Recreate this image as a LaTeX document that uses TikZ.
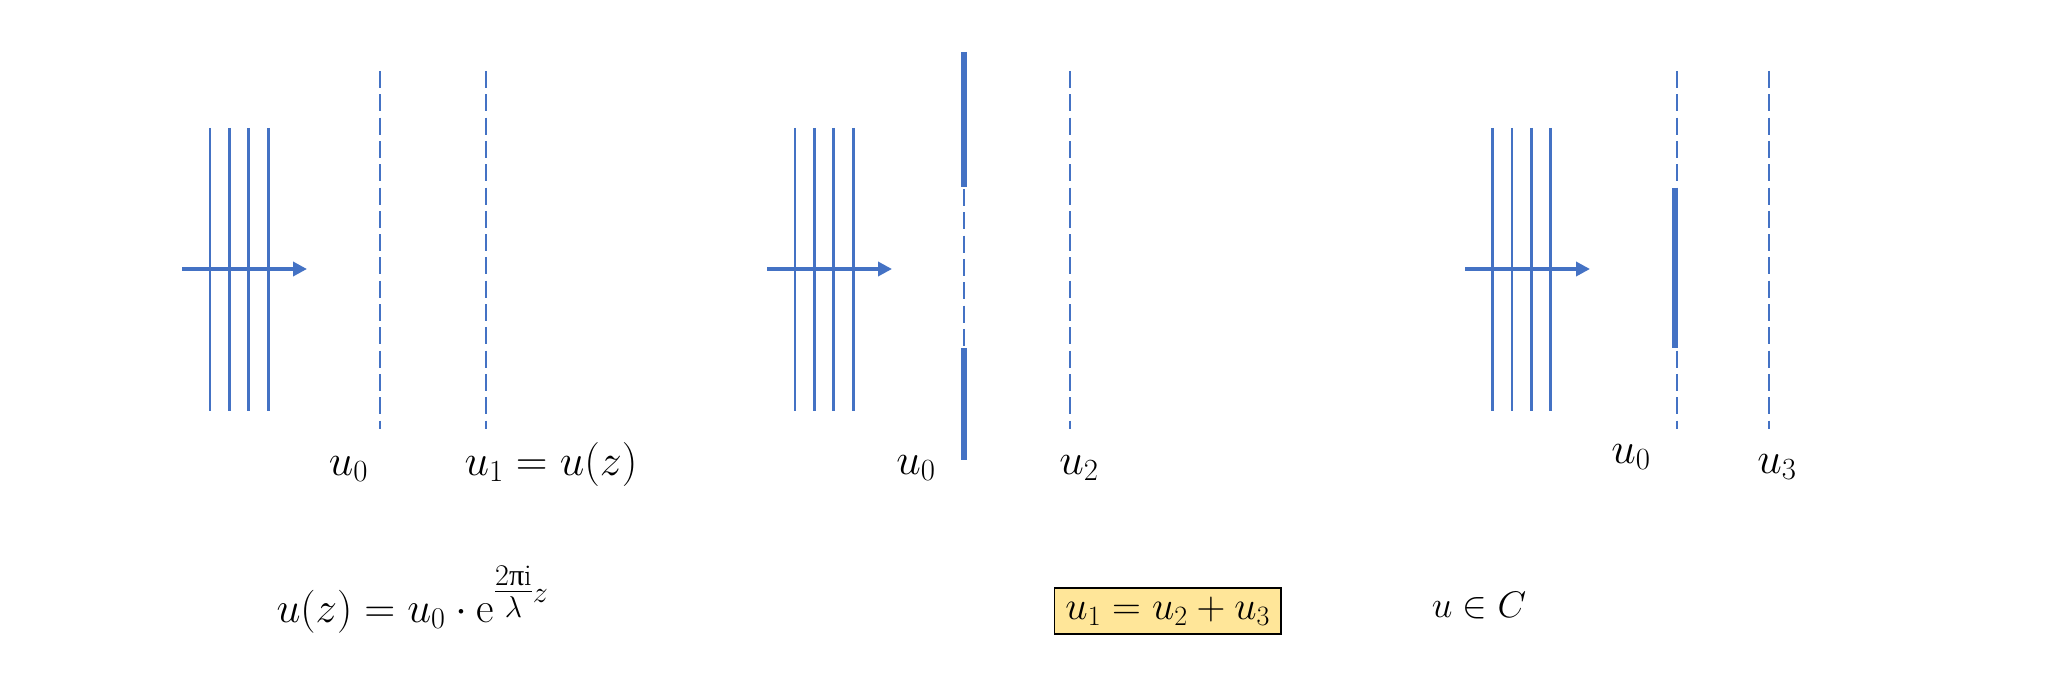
\RequirePackage{fix-cm}
\documentclass[tikz,border=0pt]{standalone}
\usepackage{amsmath}
\usepackage{fontspec}
\newfontfamily\lserif{Liberation Serif}
\usetikzlibrary{arrows.meta}
\definecolor{pblue}{RGB}{68,114,196}
\definecolor{pgold}{RGB}{255,230,153}
\begin{document}
\begin{tikzpicture}[x=1pt,y=-1pt,
  wave/.style={pblue, line width=2.8pt},
  prop/.style={pblue, line width=4pt, -{Triangle[length=14pt,width=14pt]}},
  plane/.style={pblue, line width=1.8pt, dash pattern=on 17pt off 6.3pt},
  stopbar/.style={pblue, line width=6pt},
  lab/.style={anchor=base, inner sep=0pt, font=\fontsize{44}{52}\selectfont},
]
\useasboundingbox (0,0) rectangle (2047,682);

% ---------- panel 1 ----------
\foreach \x in {210,229.4,248.8,268.2} \draw[wave] (\x,128) -- (\x,411);
\coordinate (a1s) at (182,269);
\coordinate (a1e) at (307,269);
\draw[prop] (a1s) -- (a1e);
\draw[plane] (380,71) -- (380,429);
\draw[plane] (486,71) -- (486,429);
\node[lab] (p1u0) at (348.5,475) {$u_0$};
\node[lab] (p1u1) at (551,475) {$u_1 = u(z)$};

% ---------- panel 2 ----------
\foreach \x in {795,814.4,833.8,853.2} \draw[wave] (\x,128) -- (\x,411);
\coordinate (a2s) at (767,269);
\coordinate (a2e) at (892,269);
\draw[prop] (a2s) -- (a2e);
\draw[stopbar] (964,52) -- (964,187);
\draw[plane] (964,189) -- (964,348);
\draw[stopbar] (964,348) -- (964,460);
\draw[plane] (1070,71) -- (1070,429);
\node[lab] (p2u0) at (916,474) {$u_0$};
\node[lab] (p2u2) at (1079,474) {$u_2$};

% ---------- panel 3 ----------
\foreach \x in {1492.5,1511.9,1531.3,1550.7} \draw[wave] (\x,128) -- (\x,411);
\coordinate (a3s) at (1465,269);
\coordinate (a3e) at (1590,269);
\draw[prop] (a3s) -- (a3e);
\draw[plane] (1677,71) -- (1677,429);
\draw[stopbar] (1675,188) -- (1675,348);
\draw[plane] (1769,71) -- (1769,429);
\node[lab] (p3u0) at (1631,463) {$u_0$};
\node[lab] (p3u3) at (1777,473) {$u_3$};

% ---------- formulas ----------
\node[lab, font=\fontsize{43}{51}\selectfont] (prop) at (412.5,622)
  {$u(z) = u_0 \cdot \mathrm{e}^{\genfrac{}{}{}{1}{2\text{\lserif π}\mathrm{i}}{\lambda}z}$};
\node[draw=black, fill=pgold, line width=1.5pt, inner sep=0pt,
      minimum width=226.7pt, minimum height=46.3pt,
      font=\fontsize{40}{48}\selectfont] (sum) at (1167.7,610.9)
  {$u_1 = u_2 + u_3$};
\node[lab, font=\fontsize{37}{45}\selectfont] (cplx) at (1479,617) {$u \in C$};
\end{tikzpicture}
\end{document}
